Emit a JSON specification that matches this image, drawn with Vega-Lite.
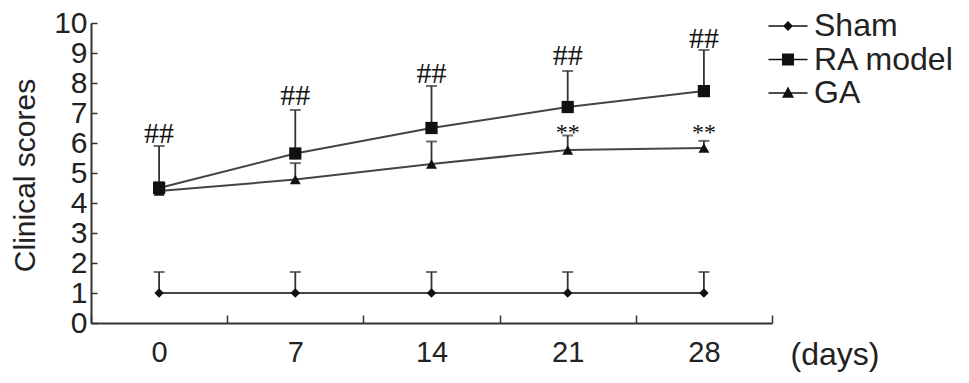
{
  "$schema": "https://vega.github.io/schema/vega-lite/v6.json",
  "width": 681,
  "height": 300,
  "autosize": "none",
  "padding": {"left": 91, "top": 23, "right": 197, "bottom": 60},
  "background": "white",
  "config": {"view": {"stroke": null}, "font": "Liberation Sans"},
  "datasets": {
    "scores": [
      {"day": 0, "group": "Sham", "mean": 1.0, "upper": 1.7},
      {"day": 7, "group": "Sham", "mean": 1.0, "upper": 1.7},
      {"day": 14, "group": "Sham", "mean": 1.0, "upper": 1.7},
      {"day": 21, "group": "Sham", "mean": 1.0, "upper": 1.7},
      {"day": 28, "group": "Sham", "mean": 1.0, "upper": 1.7},
      {"day": 0, "group": "RA model", "mean": 4.5, "upper": 5.9},
      {"day": 7, "group": "RA model", "mean": 5.65, "upper": 7.1},
      {"day": 14, "group": "RA model", "mean": 6.5, "upper": 7.9},
      {"day": 21, "group": "RA model", "mean": 7.2, "upper": 8.4},
      {"day": 28, "group": "RA model", "mean": 7.73, "upper": 9.1},
      {"day": 0, "group": "GA", "mean": 4.4, "upper": 4.7},
      {"day": 7, "group": "GA", "mean": 4.78, "upper": 5.33},
      {"day": 14, "group": "GA", "mean": 5.3, "upper": 6.05},
      {"day": 21, "group": "GA", "mean": 5.77, "upper": 6.25},
      {"day": 28, "group": "GA", "mean": 5.83, "upper": 6.07}
    ],
    "annot": [
      {"day": 0, "label": "##", "y": 6.0},
      {"day": 7, "label": "##", "y": 7.27},
      {"day": 14, "label": "##", "y": 8.0},
      {"day": 21, "label": "##", "y": 8.6},
      {"day": 28, "label": "##", "y": 9.17},
      {"day": 21, "label": "**", "y": 6.33},
      {"day": 28, "label": "**", "y": 6.33}
    ]
  },
  "resolve": {"scale": {"shape": "independent"}, "legend": {"shape": "independent"}},
  "encoding": {
    "x": {
      "field": "day",
      "type": "ordinal",
      "scale": {"paddingInner": 0, "paddingOuter": 0},
      "axis": {
        "tickBand": "extent",
        "tickSize": -8,
        "tickWidth": 1.5,
        "tickColor": "#333",
        "domainColor": "#333",
        "domainWidth": 2,
        "labelAngle": 0,
        "labelFontSize": 29,
        "labelColor": "#222",
        "labelPadding": 23,
        "title": "(days)",
        "titleX": 699,
        "titleY": 41,
        "titleAlign": "left",
        "titleBaseline": "alphabetic",
        "titleFontSize": 32,
        "titleFontWeight": "normal",
        "titleColor": "#222"
      }
    }
  },
  "layer": [
    {
      "data": {"name": "scores"},
      "mark": {"type": "rule", "color": "#333", "strokeWidth": 1.8},
      "encoding": {
        "y": {
          "field": "mean",
          "type": "quantitative",
          "scale": {"domain": [0, 10], "nice": false},
          "axis": {
            "values": [0, 1, 2, 3, 4, 5, 6, 7, 8, 9, 10],
            "tickCount": 20,
            "format": "d",
            "grid": false,
            "labelOverlap": false,
            "tickSize": -6,
            "tickWidth": 1.5,
            "tickColor": "#333",
            "domainColor": "#333",
            "domainWidth": 2,
            "labelFontSize": 30,
            "labelColor": "#222",
            "labelPadding": 10,
            "title": "Clinical scores",
            "titleFontSize": 30,
            "titleFontWeight": "normal",
            "titleColor": "#222",
            "titleX": -57,
            "titleY": 152,
            "titleAngle": -90,
            "titleAlign": "center",
            "titleBaseline": "alphabetic"
          }
        },
        "y2": {"field": "upper"}
      }
    },
    {
      "data": {"name": "scores"},
      "mark": {"type": "tick", "color": "#333", "size": 11, "thickness": 2, "orient": "horizontal"},
      "encoding": {
        "y": {"field": "upper", "type": "quantitative"}
      }
    },
    {
      "data": {"name": "scores"},
      "mark": {"type": "line", "color": "#444", "strokeWidth": 2},
      "encoding": {
        "y": {"field": "mean", "type": "quantitative"},
        "detail": {"field": "group"}
      }
    },
    {
      "data": {"name": "scores"},
      "mark": {"type": "point", "filled": true, "color": "#111", "opacity": 1},
      "encoding": {
        "y": {"field": "mean", "type": "quantitative"},
        "shape": {
          "field": "group",
          "type": "nominal",
          "scale": {"domain": ["Sham", "RA model", "GA"], "range": ["diamond", "square", "triangle-up"]},
          "legend": null
        },
        "size": {
          "condition": [
            {"test": "datum.group === 'RA model'", "value": 150},
            {"test": "datum.group === 'GA'", "value": 120}
          ],
          "value": 90
        }
      }
    },
    {
      "data": {"name": "scores"},
      "mark": {"type": "point", "filled": true, "color": "#111", "opacity": 0},
      "encoding": {
        "y": {"field": "mean", "type": "quantitative"},
        "shape": {
          "field": "group",
          "type": "nominal",
          "scale": {
            "domain": ["Sham", "RA model", "GA"],
            "range": [
              "M-1.3,-0.05H1.3V0.05H-1.3ZM0,-0.33L0.33,0L0,0.33L-0.33,0Z",
              "M-1.3,-0.05H1.3V0.05H-1.3ZM-0.4,-0.4H0.4V0.4H-0.4Z",
              "M-1.3,-0.05H1.3V0.05H-1.3ZM0,-0.43L0.4,0.32H-0.4Z"
            ]
          },
          "legend": {
            "orient": "none",
            "legendX": 681,
            "legendY": -13,
            "title": null,
            "padding": 0,
            "symbolSize": 900,
            "symbolOpacity": 1,
            "symbolFillColor": "#111",
            "symbolStrokeWidth": 0,
            "labelFontSize": 32,
            "labelOffset": 10,
            "labelColor": "#222",
            "rowPadding": 1.5
          }
        }
      }
    },
    {
      "data": {"name": "annot"},
      "transform": [{"filter": "datum.label === '##'"}],
      "mark": {"type": "text", "font": "Liberation Serif", "fontSize": 30, "baseline": "alphabetic", "color": "#111"},
      "encoding": {
        "y": {"field": "y", "type": "quantitative"},
        "text": {"field": "label"}
      }
    },
    {
      "data": {"name": "annot"},
      "transform": [{"filter": "datum.label === '**'"}],
      "mark": {"type": "text", "font": "Liberation Serif", "fontSize": 24, "baseline": "alphabetic", "dy": 7, "color": "#111"},
      "encoding": {
        "y": {"field": "y", "type": "quantitative"},
        "text": {"field": "label"}
      }
    }
  ]
}
